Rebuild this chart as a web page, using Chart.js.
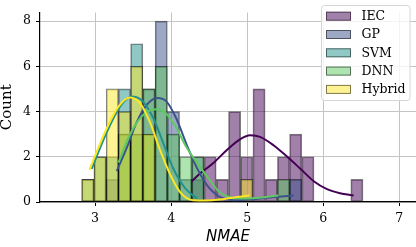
<!DOCTYPE html>
<html lang="en">
<head>
<meta charset="UTF-8">
<title>NMAE histogram</title>
<script src="https://cdn.jsdelivr.net/npm/chart.js"></script>
<style>
  html, body { margin: 0; padding: 0; background: #fff; }
  canvas { display: block; }
</style>
</head>
<body>
<canvas id="nmaeChart" width="416" height="247"></canvas>
<script>
// histogram bins (centres) shared by all models
const binCenters = [2.905, 3.066, 3.227, 3.387, 3.548, 3.709, 3.870, 4.031, 4.191, 4.352, 4.513, 4.674,
                    4.835, 4.995, 5.156, 5.317, 5.478, 5.638, 5.799, 5.960, 6.121, 6.282, 6.443];

const seriesNames = ['IEC', 'GP', 'SVM', 'DNN', 'Hybrid'];
const seriesColors = ['#440154', '#3b528b', '#21918c', '#5ec962', '#fde725'];

const iecCounts    = [0,0,0,0,0,0,0,0,0,1,2,1,4,2,5,1,2,3,2,0,0,0,1];
const gpCounts     = [0,0,1,3,3,5,8,4,1,2,0,0,0,0,0,0,0,1,0,0,0,0,0];
const svmCounts    = [1,2,2,5,7,3,0,0,0,0,0,0,0,0,0,0,0,0,0,0,0,0,0];
const dnnCounts    = [0,0,0,3,3,5,6,3,2,2,0,0,0,0,0,0,1,0,0,0,0,0,0];
const hybridCounts = [1,2,5,4,6,3,0,0,0,0,0,0,0,1,0,0,0,0,0,0,0,0,0];

// KDE curves
const iecKdeX    = [4.27, 4.38, 4.56, 4.73, 4.91, 5.04, 5.17, 5.35, 5.52, 5.70, 5.88, 6.05, 6.22, 6.40];
const iecKdeY    = [0.91, 1.26, 1.74, 2.29, 2.78, 2.95, 2.88, 2.50, 2.02, 1.47, 0.91, 0.57, 0.39, 0.29];
const gpKdeX     = [3.285, 3.42, 3.55, 3.68, 3.82, 3.94, 4.07, 4.20, 4.34, 4.47, 4.55, 4.64, 4.82, 5.04, 5.26, 5.61];
const gpKdeY     = [1.37, 2.43, 3.54, 4.30, 4.60, 4.44, 3.68, 2.57, 1.50, 0.75, 0.45, 0.22, 0.08, 0.11, 0.19, 0.29];
const svmKdeX    = [2.957, 3.15, 3.33, 3.48, 3.61, 3.77, 3.90, 4.03, 4.18, 4.34];
const svmKdeY    = [1.47, 3.06, 4.23, 4.67, 4.51, 3.68, 2.57, 1.47, 0.63, 0.15];
const dnnKdeX    = [3.307, 3.44, 3.57, 3.70, 3.81, 3.94, 4.07, 4.20, 4.34, 4.49, 4.64, 4.90, 5.16, 5.41];
const dnnKdeY    = [1.74, 2.85, 3.61, 4.02, 4.10, 3.89, 3.27, 2.43, 1.74, 1.05, 0.43, 0.15, 0.19, 0.29];
const hybridKdeX = [2.925, 3.154, 3.31, 3.46, 3.59, 3.72, 3.855, 3.99, 4.12, 4.29, 4.46, 4.64, 4.80, 5.03];
const hybridKdeY = [1.42, 3.26, 4.23, 4.62, 4.37, 3.54, 2.29, 1.20, 0.43, 0.08, 0.07, 0.11, 0.19, 0.29];

const xTicks = [3, 4, 5, 6, 7];
const yTicks = [0, 2, 4, 6, 8];

function rgba(hex, a) {
    const n = parseInt(hex.slice(1), 16);
    return 'rgba(' + (n >> 16) + ',' + ((n >> 8) & 255) + ',' + (n & 255) + ',' + a + ')';
}

function histData(counts) {
    return binCenters.map((x, i) => ({ x: x, y: counts[i] })).filter(p => p.y > 0);
}

function kdeData(xs, ys) {
    return xs.map((x, i) => ({ x: x, y: ys[i] }));
}

const allCounts = [iecCounts, gpCounts, svmCounts, dnnCounts, hybridCounts];
const allKde = [[iecKdeX, iecKdeY], [gpKdeX, gpKdeY], [svmKdeX, svmKdeY], [dnnKdeX, dnnKdeY], [hybridKdeX, hybridKdeY]];

const datasets = [];
// lines on top, Hybrid topmost
for (let i = seriesNames.length - 1; i >= 0; i--) {
    datasets.push({
        type: 'line',
        label: seriesNames[i] + ' kde',
        data: kdeData(allKde[i][0], allKde[i][1]),
        borderColor: seriesColors[i],
        borderWidth: 2,
        pointRadius: 0,
        cubicInterpolationMode: 'monotone',
        fill: false,
        order: 0
    });
}
// bars: IEC at the bottom, Hybrid on top
seriesNames.forEach((name, i) => {
    datasets.push({
        type: 'bar',
        label: name,
        data: histData(allCounts[i]),
        backgroundColor: rgba(seriesColors[i], 0.5),
        borderColor: 'rgba(0,0,0,0.5)',
        borderWidth: 1,
        borderSkipped: false,
        grouped: false,
        barPercentage: 1,
        categoryPercentage: 1,
        order: 10 - i
    });
});

const legendBox = {
    id: 'legendBox',
    afterDraw(chart) {
        const ctx = chart.ctx;
        ctx.save();
        ctx.beginPath();
        ctx.roundRect(321.5, 5.5, 88.5, 95, 3);
        ctx.fillStyle = 'rgba(255,255,255,0.8)';
        ctx.fill();
        ctx.strokeStyle = '#d6d6d6';
        ctx.lineWidth = 1;
        ctx.stroke();
        ctx.font = '12.5px "DejaVu Serif"';
        ctx.textBaseline = 'middle';
        seriesNames.forEach((name, i) => {
            const cy = 16.2 + i * 18.3;
            ctx.fillStyle = rgba(seriesColors[i], 0.5);
            ctx.fillRect(326, cy - 4.5, 25, 9);
            ctx.strokeStyle = 'rgba(0,0,0,0.5)';
            ctx.strokeRect(326.5, cy - 4, 24, 8);
            ctx.fillStyle = '#000';
            ctx.fillText(name, 361.5, cy + 0.5);
        });
        ctx.restore();
    }
};

const tickFont = { family: 'DejaVu Serif', size: 12.5 };

new Chart(document.getElementById('nmaeChart').getContext('2d'), {
    type: 'bar',
    data: { datasets: datasets },
    options: {
        responsive: false,
        animation: false,
        layout: { padding: 0 },
        plugins: { legend: { display: false }, tooltip: { enabled: false } },
        scales: {
            x: {
                type: 'linear',
                min: 2.276,
                max: 7.22,
                offset: false,
                grid: { color: '#c4c4c4', lineWidth: 1, offset: false, tickLength: 4, tickColor: '#000' },
                border: { color: '#000', width: 1.2 },
                ticks: { font: tickFont, color: '#000', padding: 5, maxRotation: 0 },
                afterBuildTicks: s => { s.ticks = xTicks.map(v => ({ value: v })); },
                afterFit: s => { s.height = 45; },
                title: {
                    display: true, text: 'NMAE', color: '#000',
                    font: { family: 'DejaVu Sans', style: 'italic', size: 15, lineHeight: 1 },
                    padding: { top: 0, bottom: 2 }
                }
            },
            y: {
                min: 0,
                max: 8.38,
                grid: { color: '#c4c4c4', lineWidth: 1, tickLength: 4, tickColor: '#000' },
                border: { color: '#000', width: 1.2 },
                ticks: { font: tickFont, color: '#000', padding: 5 },
                afterBuildTicks: s => { s.ticks = yTicks.map(v => ({ value: v })); },
                afterFit: s => { s.width = 40; },
                title: {
                    display: true, text: 'Count', color: '#000',
                    font: { family: 'DejaVu Serif', size: 15, lineHeight: 1 },
                    padding: { top: 0, bottom: 0 }
                }
            }
        }
    },
    plugins: [legendBox]
});
</script>
</body>
</html>
